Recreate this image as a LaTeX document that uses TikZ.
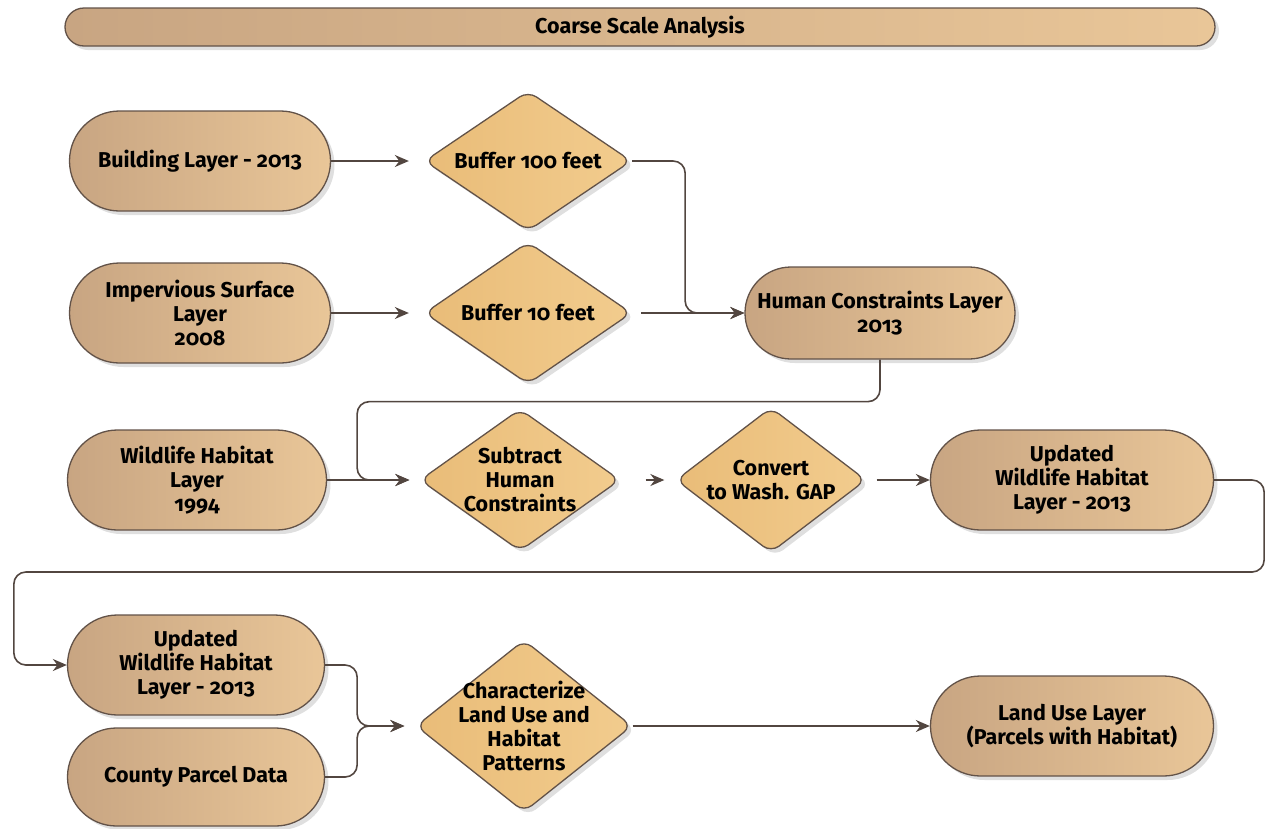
\documentclass[tikz,border=0pt]{standalone}
\usepackage{fontspec}
\setmainfont{Fira Sans}[Numbers=OldStyle]
\usetikzlibrary{shapes.geometric, shapes.misc, positioning, arrows.meta, shadows}

\definecolor{layerL}{RGB}{200,165,130}
\definecolor{layerR}{RGB}{233,198,152}
\definecolor{stepL}{RGB}{233,188,120}
\definecolor{stepR}{RGB}{242,204,142}
\definecolor{rim}{RGB}{98,82,72}
\definecolor{wire}{RGB}{82,70,64}

\begin{document}
\begin{tikzpicture}[x=1pt,y=-1pt,>={Stealth[length=14pt,width=12pt]},font=\bfseries\fontsize{21.5}{24}\selectfont]

    % Define styles
    \tikzstyle{layer} = [rounded rectangle, draw=rim, line width=1.3pt, left color=layerL, right color=layerR, text centered, align=center, minimum width=265pt, minimum height=100pt, inner sep=2pt, drop shadow={shadow xshift=4pt, shadow yshift=-4pt, opacity=0.25}]
    \tikzstyle{decision} = [diamond, draw=rim, line width=1.3pt, left color=stepL, right color=stepR, rounded corners=10pt, minimum width=207pt, minimum height=140pt, inner sep=0pt, drop shadow={shadow xshift=4pt, shadow yshift=-4pt, opacity=0.25}]
    \tikzstyle{lbl} = [align=center, inner sep=0pt]
    \tikzstyle{flow} = [->, draw=wire, line width=1.6pt, rounded corners=12pt]

    \useasboundingbox (0,0) rectangle (1267,828);

    % Title bar
    \node[layer, minimum width=1150pt, minimum height=38pt, inner sep=0pt] (title) at (640,27) {Coarse Scale Analysis};

    % Input layers
    \node[layer] (bld) at (200,161) {Building Layer - 2013};
    \node[layer] (imp) at (200,313) {Impervious Surface\\Layer\\2008};
    \node[layer, minimum width=263pt] (wh94) at (197,480) {Wildlife Habitat\\Layer\\1994};
    \node[layer, minimum width=261pt] (updL) at (196,665) {Updated\\Wildlife Habitat\\Layer - 2013};
    \node[layer, minimum width=261pt, minimum height=98pt] (cpd) at (196,777) {County Parcel Data};

    % Processing steps
    \node[decision, label={[lbl]center:Buffer 100 feet}] (buf100) at (528,161) {};
    \node[decision, minimum height=142pt, label={[lbl]center:Buffer 10 feet}] (buf10) at (528,313) {};
    \node[decision, minimum width=200pt, minimum height=142pt, label={[lbl]center:Subtract\\Human\\Constraints}] (sub) at (520,480) {};
    \node[decision, minimum width=190pt, minimum height=145pt, label={[lbl]center:Convert\\to Wash. GAP}] (conv) at (771,480) {};
    \node[decision, minimum width=216pt, minimum height=172pt, label={[lbl]center:Characterize\\Land Use and\\Habitat\\Patterns}] (char) at (524,726) {};

    % Output layers
    \node[layer, minimum width=274pt, minimum height=92pt] (hcl) at (880,313) {Human Constraints Layer\\2013};
    \node[layer, minimum width=287pt] (updR) at (1072,480) {Updated\\Wildlife Habitat\\Layer - 2013};
    \node[layer, minimum width=287pt] (lul) at (1072,726) {Land Use Layer\\(Parcels with Habitat)};

    % Data Flows
    \draw[flow, shorten >=15pt] (bld) -- (buf100);
    \draw[flow, shorten >=15pt] (imp.east) -- (buf10.west);
    \draw[flow] (buf100.east) -- ++(53,0) |- (hcl.west);
    \draw[flow, shorten <=9pt] (buf10.east) -- (hcl.west);
    \draw[flow, shorten >=10pt] (hcl.south) -- ++(0,42) -| ([xshift=30pt]wh94.east) -- (sub.west);
    \draw[flow, shorten >=10pt] (wh94.east) -- (sub.west);
    \draw[flow, shorten <=25pt, shorten >=11pt] (sub.east) -- (conv.west);
    \draw[flow, shorten <=10pt] (conv.east) -- (updR.west);
    \draw[flow] (updR.east) -- ++(50,0) -- ++(0,92) -| ([xshift=-53pt]updL.west) -- (updL.west);
    \draw[flow, shorten >=11pt] (updL.east) -- ++(32,0) |- (char.west);
    \draw[flow, shorten >=11pt] (cpd.east) -- ++(32,0) |- (char.west);
    \draw[flow] (char.east) -- (lul.west);

\end{tikzpicture}
\end{document}
